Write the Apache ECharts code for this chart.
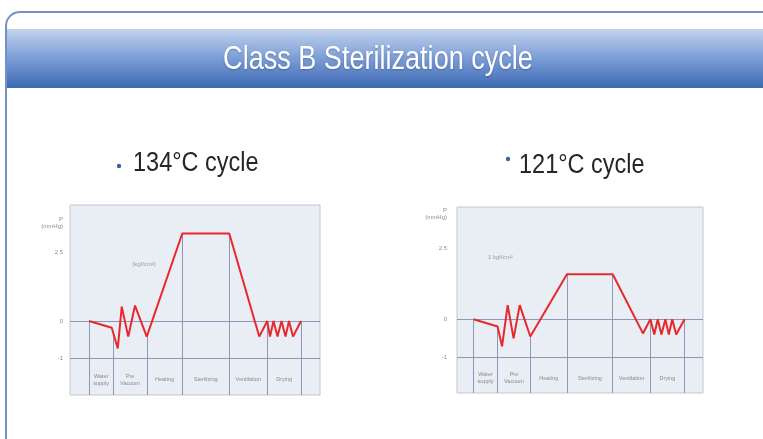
<!DOCTYPE html>
<html>
<head>
<meta charset="utf-8">
<script src="https://cdn.jsdelivr.net/npm/echarts@6/dist/echarts.min.js"></script>
<style>
html,body{margin:0;padding:0;background:#fff;}
#c{width:763px;height:439px;}
</style>
</head>
<body>
<div id="c"></div>
<script>
// ---- data ----
var slideTitle = 'Class B Sterilization cycle';
var cycleTitles = ['134°C cycle', '121°C cycle'];
var phases = ['Water\nsupply', 'Pre\nVacuum', 'Heating', 'Sterilizing', 'Ventilation', 'Drying'];

// time axis: arbitrary units, 0..100 across the plot
var leftTime  = [7.6, 16.7, 19.1, 20.7, 23.3, 26.0, 30.7, 44.9, 63.7, 75.7, 78.9, 80.0, 81.4, 83.0, 84.6, 86.2, 87.6, 89.2, 92.4];
var leftP     = [0, -0.18, -0.74, 0.39, -0.42, 0.42, -0.42, 2.37, 2.37, -0.42, 0, -0.42, 0, -0.42, 0, -0.42, 0, -0.42, 0];
var leftBounds = [7.6, 17.3, 30.7, 44.9, 63.7, 78.9, 92.4];

var rightTime = [6.7, 16.5, 18.3, 20.6, 23.0, 25.5, 29.8, 44.7, 63.3, 75.6, 78.6, 80.2, 81.6, 83.1, 84.7, 86.1, 87.5, 89.1, 92.5];
var rightP    = [0, -0.19, -0.71, 0.37, -0.5, 0.37, -0.45, 1.18, 1.18, -0.37, 0, -0.4, 0, -0.4, 0, -0.4, 0, -0.4, 0];
var rightBounds = [6.7, 16.5, 29.8, 44.7, 63.3, 78.6, 92.5];

// y tick labels (positions as drawn in the picture)
var leftTickValues  = [-1, 0, 1.86, 2.66];
var rightTickValues = [-1, 0, 1.87, 2.76];
var tickLabels = ['-1', '0', '2.5', 'P\n(mmHg)'];

var refLines = [0, -1];
var leftNote  = {x: 29.6, y: 1.54, text: '(kgf/cm²)'};
var rightNote = {x: 17.6, y: 1.63, text: '1 kgf/cm²'};

// ---- helpers ----
function interp(xs, ys, x) {
  for (var i = 0; i < xs.length - 1; i++) {
    if (x >= xs[i] && x <= xs[i + 1]) {
      var t = (x - xs[i]) / (xs[i + 1] - xs[i]);
      return ys[i] + t * (ys[i + 1] - ys[i]);
    }
  }
  return ys[ys.length - 1];
}
function pairs(xs, ys) { return xs.map(function (x, i) { return [x, ys[i]]; }); }

var FONT = 'Liberation Sans';

function buildChart(idx, xs, ys, bounds, ticks, yMin, yMax, note) {
  var vlines = bounds.map(function (b) {
    return [{coord: [b, interp(xs, ys, b)]}, {coord: [b, yMin]}];
  });
  var areas = [];
  for (var i = 0; i < phases.length; i++) {
    areas.push([{xAxis: bounds[i], yAxis: -1, name: phases[i]}, {xAxis: bounds[i + 1], yAxis: yMin}]);
  }
  var hl = refLines.map(function (v) { return {yAxis: v}; });
  return {
    xAxis: {
      type: 'value', gridIndex: idx, min: 0, max: 100, show: false
    },
    yAxis: {
      type: 'value', gridIndex: idx, min: yMin, max: yMax,
      axisLine: {show: false}, axisTick: {show: false}, splitLine: {show: false},
      axisLabel: {
        customValues: ticks, margin: idx === 0 ? 7 : 10,
        color: '#8c8c8c', fontSize: 6, fontFamily: FONT, lineHeight: 7,
        formatter: function (v) {
          for (var k = 0; k < ticks.length; k++) if (Math.abs(ticks[k] - v) < 1e-6) return tickLabels[k];
          return '';
        }
      }
    },
    series: [
      {
        type: 'line', xAxisIndex: idx, yAxisIndex: idx,
        data: pairs(xs, ys), showSymbol: false, symbol: 'none',
        lineStyle: {color: '#e8282c', width: 2},
        z: 5,
        markLine: {
          silent: true, symbol: 'none', animation: false,
          label: {show: false},
          lineStyle: {color: '#8f96b8', width: 1, type: 'solid'},
          data: hl.concat(vlines)
        },
        markArea: {
          silent: true, animation: false,
          itemStyle: {color: 'rgba(0,0,0,0)'},
          label: {
            show: true, position: 'inside', color: '#8a8a8a', fontSize: 5.5,
            fontFamily: FONT, lineHeight: 7, offset: [0, 3]
          },
          data: areas
        }
      },
      {
        type: 'scatter', xAxisIndex: idx, yAxisIndex: idx,
        data: [[note.x, note.y]], symbolSize: 0, silent: true,
        label: {show: true, position: 'inside', formatter: note.text,
          color: '#8a8a8a', fontSize: 6, fontFamily: FONT}
      }
    ]
  };
}

var c0 = buildChart(0, leftTime, leftP, leftBounds, leftTickValues, -2.0, 3.14, leftNote);
var c1 = buildChart(1, rightTime, rightP, rightBounds, rightTickValues, -1.93, 2.94, rightNote);

var chart = echarts.init(document.getElementById('c'), null, {renderer: 'canvas'});
chart.setOption({
  backgroundColor: '#ffffff',
  animation: false,
  grid: [
    {left: 70, top: 205, width: 250, height: 190, show: true, backgroundColor: '#e9edf4', borderColor: '#c3c7cf', borderWidth: 1},
    {left: 457, top: 207, width: 246, height: 186, show: true, backgroundColor: '#e9edf4', borderColor: '#c3c7cf', borderWidth: 1}
  ],
  xAxis: [c0.xAxis, c1.xAxis],
  yAxis: [c0.yAxis, c1.yAxis],
  series: c0.series.concat(c1.series),
  graphic: [
    {type: 'rect', z: -10, shape: {x: 6, y: 12, width: 820, height: 520, r: 14},
      style: {fill: '#ffffff', stroke: '#7590c6', lineWidth: 2}},
    {type: 'rect', z: -9, shape: {x: 7, y: 29, width: 770, height: 59},
      style: {fill: new echarts.graphic.LinearGradient(0, 0, 0, 1, [
        {offset: 0, color: '#c2d3ee'}, {offset: 0.5, color: '#7b9dd6'}, {offset: 1, color: '#3d69b4'}])}},
    {type: 'text', z: 10, x: 378, y: 60, scaleX: 0.82,
      style: {text: slideTitle, fill: '#ffffff', font: '33px ' + FONT, textAlign: 'center', textVerticalAlign: 'middle',
        textShadowColor: 'rgba(0,0,0,0.25)', textShadowBlur: 2, textShadowOffsetY: 1}},
    {type: 'circle', z: 10, shape: {cx: 119, cy: 166, r: 2.2}, style: {fill: '#3b5fa8'}},
    {type: 'text', z: 10, x: 133, y: 164, scaleX: 0.87,
      style: {text: cycleTitles[0], fill: '#262626', font: '27px ' + FONT, textAlign: 'left', textVerticalAlign: 'middle'}},
    {type: 'circle', z: 10, shape: {cx: 508, cy: 159, r: 2.2}, style: {fill: '#3b5fa8'}},
    {type: 'text', z: 10, x: 519, y: 166, scaleX: 0.87,
      style: {text: cycleTitles[1], fill: '#262626', font: '27px ' + FONT, textAlign: 'left', textVerticalAlign: 'middle'}}
  ]
});
</script>
</body>
</html>
